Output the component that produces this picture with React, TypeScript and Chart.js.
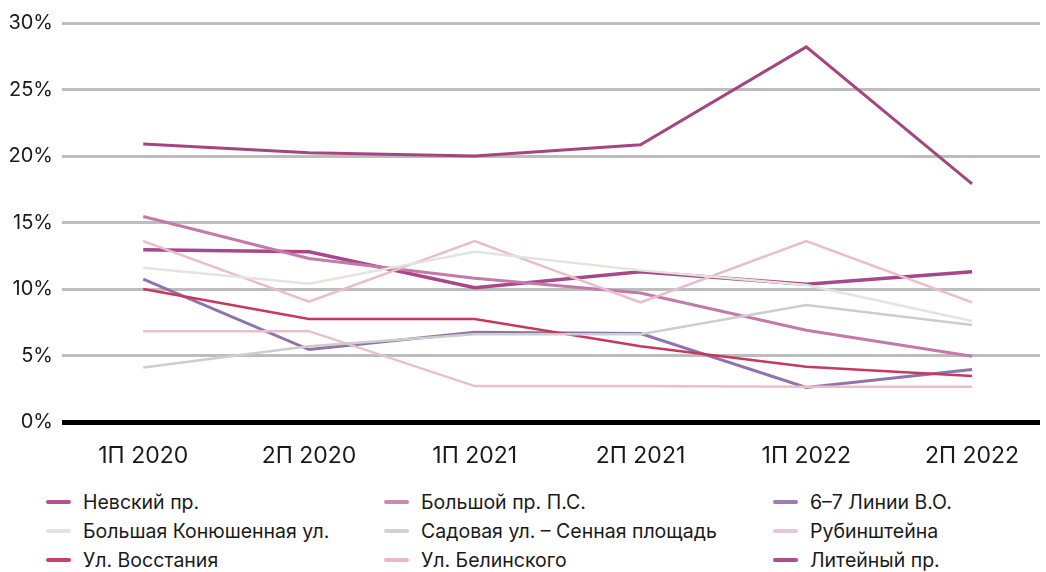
import React, { useEffect, useRef } from "react";
import { Chart, registerables } from "chart.js";

Chart.register(...registerables);

const periods = ["1П 2020", "2П 2020", "1П 2021", "2П 2021", "1П 2022", "2П 2022"];
const yTicks = [0, 5, 10, 15, 20, 25, 30];

const nevsky = [20.9, 20.25, 20.0, 20.85, 28.2, 17.9];
const bolshoyPS = [15.45, 12.3, 10.8, 9.7, 6.9, 4.95];
const linii67 = [10.75, 5.45, 6.75, 6.65, 2.6, 3.95];
const konyushennaya = [11.6, 10.4, 12.8, 11.4, 10.3, 7.6];
const sadovaya = [4.1, 5.7, 6.6, 6.6, 8.8, 7.3];
const rubinshteyna = [13.6, 9.05, 13.6, 9.0, 13.6, 9.0];
const vosstaniya = [10.0, 7.75, 7.75, 5.7, 4.15, 3.45];
const belinskogo = [6.83, 6.83, 2.7, 2.7, 2.65, 2.65];
const liteyny = [12.95, 12.8, 10.1, 11.3, 10.35, 11.3];

const seriesNames = [
  "Невский пр.",
  "Большой пр. П.С.",
  "6–7 Линии В.О.",
  "Большая Конюшенная ул.",
  "Садовая ул. – Сенная площадь",
  "Рубинштейна",
  "Ул. Восстания",
  "Ул. Белинского",
  "Литейный пр.",
];
const seriesValues = [nevsky, bolshoyPS, linii67, konyushennaya, sadovaya, rubinshteyna, vosstaniya, belinskogo, liteyny];
const lineColors = ["#a3467f", "#c47aa8", "#8f74aa", "#e3e3e0", "#cdcdcd", "#eabccc", "#c8375f", "#ecbfc8", "#a8478a"];
const legendColors = ["#b8508f", "#c98ab3", "#a07cb0", "#e2e2de", "#d2d2d2", "#ecc5d4", "#c9406b", "#eab9c3", "#b04d8e"];
const lineWidths = [3, 3, 3, 2.5, 2.5, 2.5, 2.5, 2.5, 3.5];

const FONT = "Inter, 'Noto Sans', sans-serif";

export default function App() {
  const ref = useRef<HTMLCanvasElement | null>(null);

  useEffect(() => {
    document.body.style.margin = "0";
    const canvas = ref.current;
    if (!canvas) return;
    const datasets = seriesNames.map((name, i) => ({
      label: name,
      data: seriesValues[i].map((v, j) => ({ x: j, y: v })),
      borderColor: lineColors[i],
      backgroundColor: lineColors[i],
      borderWidth: lineWidths[i],
      pointRadius: 0,
      tension: 0,
    }));
    // draw darker lines on top
    const order = [3, 4, 5, 7, 1, 6, 2, 8, 0];
    const ds = order.map((k) => datasets[k]);
    const chart = new Chart(canvas, {
      type: "line",
      data: { datasets: ds },
      options: {
        animation: false,
        responsive: false,
        maintainAspectRatio: false,
        layout: { padding: { top: 23, right: 6, left: 0, bottom: 0 } },
        plugins: { legend: { display: false }, tooltip: { enabled: false } },
        scales: {
          x: {
            type: "linear",
            min: -0.49,
            max: 5.41,
            grid: { display: false },
            border: { display: false },
            afterBuildTicks: (scale: any) => {
              scale.ticks = periods.map((_, i) => ({ value: i }));
            },
            afterFit: (scale: any) => {
              scale.height = 58;
            },
            ticks: {
              autoSkip: false,
              maxRotation: 0,
              padding: 12,
              color: "#1a1a1a",
              font: { family: FONT, size: 23 },
              callback: (v: any) => periods[Math.round(Number(v))] ?? "",
            },
          },
          y: {
            min: 0,
            max: 30,
            afterBuildTicks: (scale: any) => {
              scale.ticks = yTicks.map((v) => ({ value: v }));
            },
            afterFit: (scale: any) => {
              scale.width = 62;
            },
            border: { display: false },
            grid: {
              drawTicks: false,
              color: (c: any) => (c.tick && c.tick.value === 0 ? "#000000" : "#bdbdbd"),
              lineWidth: (c: any) => (c.tick && c.tick.value === 0 ? 5 : 3),
            },
            ticks: {
              padding: 9,
              color: "#1a1a1a",
              font: { family: FONT, size: 20 },
              callback: (v: any) => `${v}%`,
            },
          },
        },
      },
    });
    return () => chart.destroy();
  }, []);

  const colX = [46, 384, 773];
  const rowY = [502, 531, 560];

  return (
    <div style={{ position: "relative", width: 1046, height: 572, background: "#fff", fontFamily: FONT }}>
      <canvas ref={ref} width={1046} height={480} style={{ position: "absolute", left: 0, top: 0, width: 1046, height: 480 }} />
      {seriesNames.map((name, i) => {
        const col = i % 3;
        const row = Math.floor(i / 3);
        return (
          <div key={name} style={{ position: "absolute", left: colX[col], top: rowY[row] - 12, height: 24, display: "flex", alignItems: "center" }}>
            <span style={{ display: "inline-block", width: 25, height: 4, borderRadius: 2, background: legendColors[i], marginRight: 12 }} />
            <span style={{ fontSize: 19.5, color: "#1a1a1a", whiteSpace: "nowrap", lineHeight: "24px" }}>{name}</span>
          </div>
        );
      })}
    </div>
  );
}
